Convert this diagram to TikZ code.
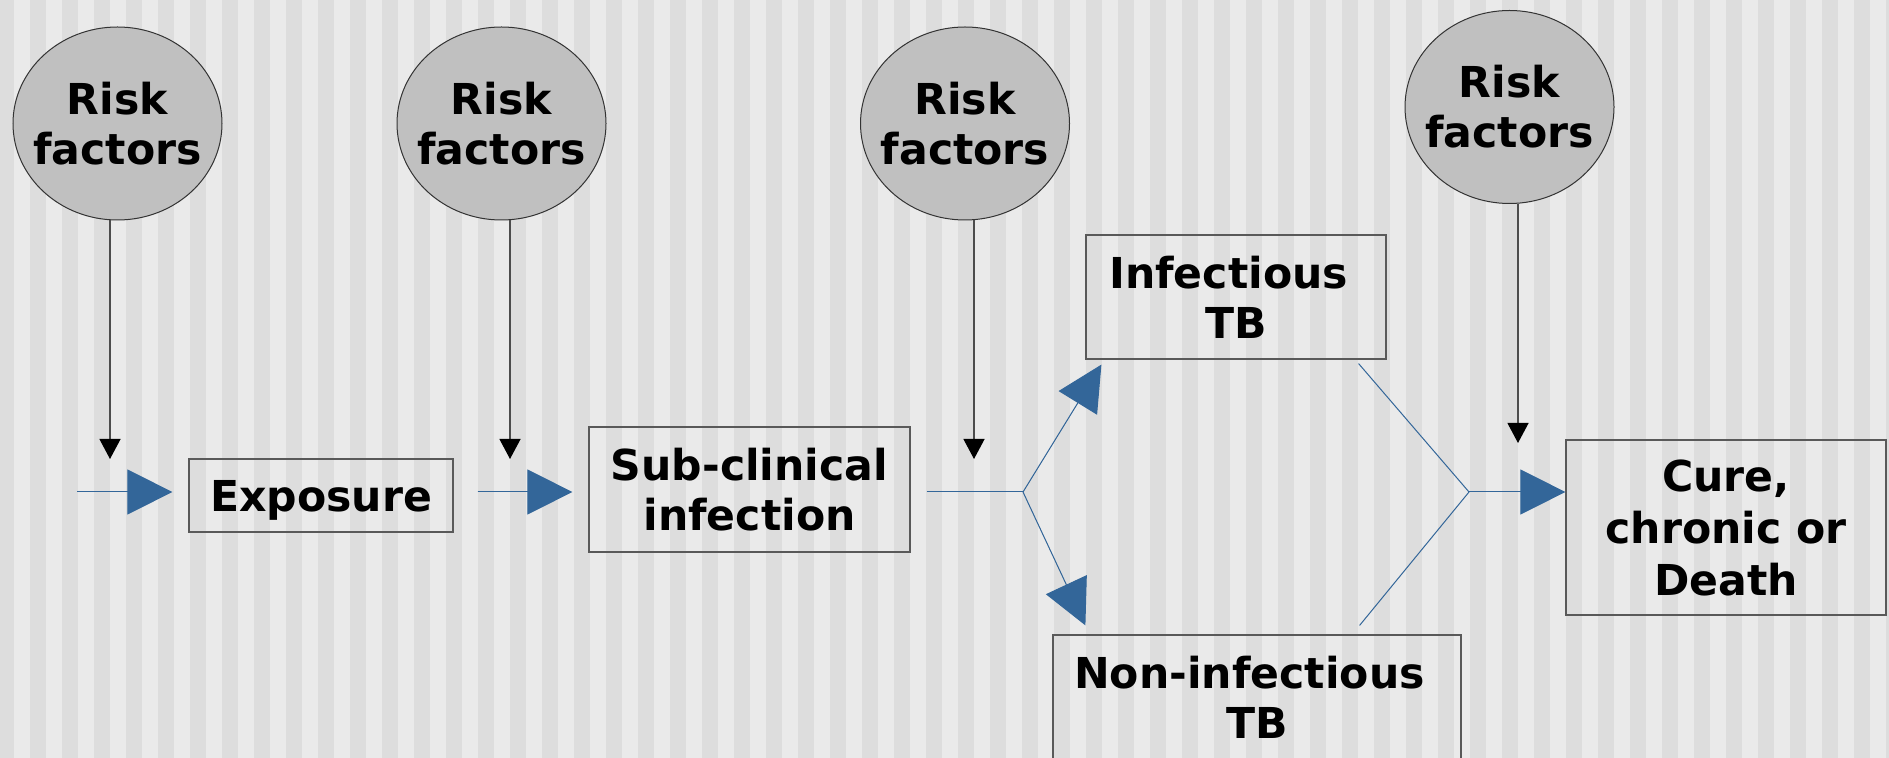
\documentclass[tikz,border=0pt]{standalone}
\usepackage{fontspec}
\setmainfont{DejaVu Sans}
\usepackage{tikz}
\usetikzlibrary{shapes.geometric,arrows.meta}
\definecolor{flowblue}{RGB}{51,102,153}
\definecolor{stripedark}{RGB}{221,221,221}
\definecolor{stripelight}{RGB}{234,234,234}
\definecolor{bubble}{RGB}{192,192,192}

\begin{document}
\begin{tikzpicture}[x=0.5pt,y=-0.5pt,font=\fontsize{21.3pt}{25pt}\selectfont\bfseries]
        \tikzstyle{risk node}=[ellipse,draw=black!80,fill=bubble,line width=0.5pt,minimum width=104.5pt,minimum height=96.5pt,inner sep=0pt]
        \tikzstyle{stage node}=[rectangle,draw=black!65,line width=0.6pt,inner sep=0pt,align=center]
        \tikzstyle{risk arrow}=[draw=black!70,line width=0.6pt,-{Triangle[width=10.5pt,length=10pt,color=black]}]
        \tikzstyle{flow}=[draw=flowblue,fill=flowblue,line width=0.5pt,-{Triangle[width=22.5pt,length=22.5pt]}]
        \tikzstyle{flow line}=[draw=flowblue,line width=0.5pt]

        \useasboundingbox (0,0) rectangle (1889,758);
        \fill[stripelight] (0,0) rectangle (1889,758);
        \foreach \i in {0,...,59}
            \fill[stripedark] (-2+32*\i,0) rectangle ++(16,758);

        \node(rf1)[risk node,label={[align=center]center:{Risk\\factors}}] at (117.5,123.5) {};
        \node(rf2)[risk node,label={[align=center]center:{Risk\\factors}}] at (501.5,123.5) {};
        \node(rf3)[risk node,label={[align=center]center:{Risk\\factors}}] at (965,123.5) {};
        \node(rf4)[risk node,label={[align=center]center:{Risk\\factors}}] at (1509.5,107) {};

        \node(exp)[stage node,text depth=0pt,minimum width=132pt,minimum height=36.5pt] at (321,495.5) {Exposure};
        \node(sub)[stage node,minimum width=160.5pt,minimum height=62.5pt] at (749.5,489.5) {Sub-clinical\\infection};
        \node(inf)[stage node,minimum width=150pt,minimum height=62pt] at (1236,297) {Infectious\hspace*{0.35em}\\TB};
        \node(non)[stage node,minimum width=204pt,minimum height=62pt] at (1257,697) {Non-infectious\hspace*{0.35em}\\TB};
        \node(cure)[stage node,font=\fontsize{21.3pt}{26pt}\selectfont\bfseries,minimum width=160pt,minimum height=87.5pt] at (1726,527.5) {Cure,\\chronic or\\Death};

        % risk factor arrows
        \coordinate(t1) at (110,459);
        \coordinate(t2) at (510,459);
        \coordinate(t3) at (974,459);
        \coordinate(t4) at (1518,443);
        \draw[risk arrow] (rf1.south -| t1) -- (t1);
        \draw[risk arrow] (rf2.south -| t2) -- (t2);
        \draw[risk arrow] (rf3.south -| t3) -- (t3);
        \draw[risk arrow] (rf4.south -| t4) -- (t4);

        % main flow
        \coordinate(in) at (77,492);
        \coordinate(br) at (1023,492);
        \coordinate(mg) at (1469,492);
        \draw[flow,shorten >=8pt] (in) -- (in -| exp.west);
        \draw[flow,shorten <=12pt,shorten >=8pt] (exp.east |- in) -- (in -| sub.west);
        \draw[flow line,shorten <=8pt] (sub.east |- br) -- (br);
        \draw[flow] (br) -- ([xshift=8pt,yshift=-2.5pt]inf.south west);
        \draw[flow] (br) -- ([xshift=16.5pt,yshift=4.5pt]non.north west);
        \draw[flow line] ([xshift=-14pt,yshift=-2pt]inf.south east) -- (mg);
        \draw[flow line] ([xshift=-51pt,yshift=4.5pt]non.north east) -- (mg);
        \draw[flow] (mg) -- (mg -| cure.west);
\end{tikzpicture}
\end{document}
